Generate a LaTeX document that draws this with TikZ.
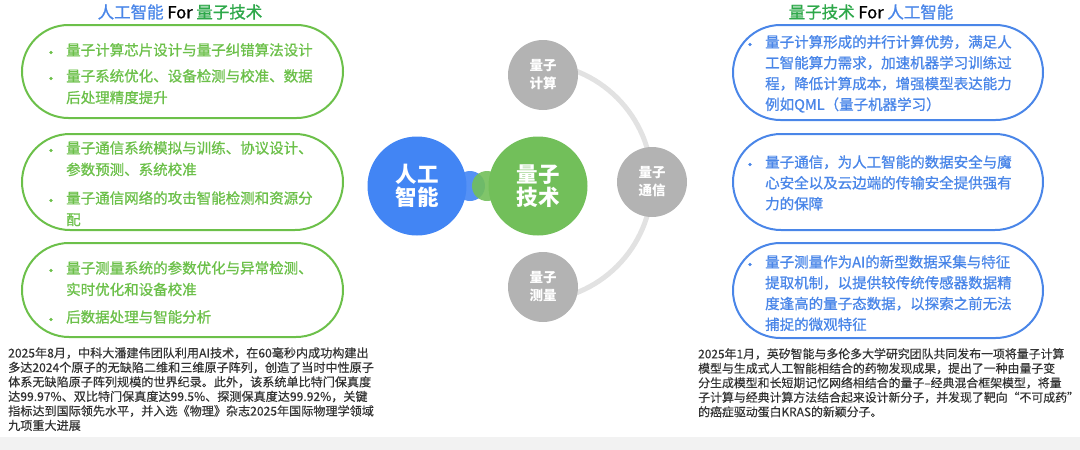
\documentclass[tikz,border=0pt]{standalone}
\usepackage{fontspec}
\setmainfont{Noto Sans CJK SC}
\newfontfamily\medfont[FakeBold=1]{Noto Sans CJK SC}
\newfontfamily\notefont[FakeBold=0.4]{Noto Sans CJK SC}
\usetikzlibrary{positioning, shapes.misc}

\definecolor{aiblue}{HTML}{4285F4}
\definecolor{boxblue}{HTML}{4A86E8}
\definecolor{qgreen}{HTML}{72BF5A}
\definecolor{boxgreen}{HTML}{6CC04A}
\definecolor{titlegreen}{HTML}{2EA84A}
\definecolor{qgray}{HTML}{B3B3B3}
\definecolor{arcgray}{HTML}{E2E2E2}
\definecolor{bodytext}{HTML}{333333}
\definecolor{bandgray}{HTML}{F2F2F2}

\begin{document}
\begin{tikzpicture}[x=1pt, y=-1pt,
  bigdot/.style={circle, minimum size=99pt, inner sep=0pt, text=white, align=center, font=\bfseries\fontsize{21.5}{23}\selectfont},
  linkdot/.style={circle, minimum size=30pt, inner sep=0pt},
  graydot/.style={circle, fill=qgray, minimum size=70pt, inner sep=0pt, text=white, align=center, font=\bfseries\fontsize{13.5}{18}\selectfont},
  greenbox/.style={rounded rectangle, draw=boxgreen, line width=2pt, minimum width=321pt, inner sep=0pt},
  bluebox/.style={rounded rectangle, draw=boxblue, line width=2pt, minimum width=310pt, inner sep=0pt},
  greenitem/.style={anchor=north west, inner sep=0pt, align=left, text=boxgreen, font=\medfont\fontsize{14.5}{21.5}\selectfont},
  blueitem/.style={anchor=north west, inner sep=0pt, align=left, text=boxblue, font=\medfont\fontsize{14.5}{20.8}\selectfont},
  dotmark/.style={anchor=north, inner sep=0pt, yshift=-2pt, text height=12.8pt, text depth=0pt, font=\medfont\fontsize{14.5}{21.5}\selectfont},
  headline/.style={inner sep=0pt, font=\medfont\fontsize{16.5}{18}\selectfont},
  note/.style={anchor=north west, inner sep=0pt, align=left, text=bodytext, font=\notefont\fontsize{12.1}{14.5}\selectfont}
]
\useasboundingbox (0,0) rectangle (1080,450);
\fill[bandgray] (0,437) rectangle (1080,450);

% titles
\node[headline] (aiTitle) at (180,12) {\textcolor{boxblue}{人工智能} For \textcolor{titlegreen}{量子技术}};
\node[headline] (qtTitle) at (871,12) {\textcolor{titlegreen}{量子技术} For \textcolor{boxblue}{人工智能}};

% left boxes
\node[greenbox, minimum height=93pt] (lbox1) at (182.5,71.5) {};
\node[greenbox, minimum height=96pt] (lbox2) at (182.5,182) {};
\node[greenbox, minimum height=94pt] (lbox3) at (182.5,290) {};
\node[dotmark, text=boxgreen] (ld1) at (51,43) {·};
\node[greenitem] (li1) at (66,43) {量子计算芯片设计与量子纠错算法设计};
\node[dotmark, text=boxgreen] (ld2) at (51,69) {·};
\node[greenitem] (li2) at (66,69) {量子系统优化、设备检测与校准、数据\\后处理精度提升};
\node[dotmark, text=boxgreen] (ld3) at (51,141) {·};
\node[greenitem] (li3) at (66,141) {量子通信系统模拟与训练、协议设计、\\参数预测、系统校准};
\node[dotmark, text=boxgreen] (ld4) at (51,191) {·};
\node[greenitem] (li4) at (66,191) {量子通信网络的攻击智能检测和资源分\\配};
\node[dotmark, text=boxgreen] (ld5) at (51,261) {·};
\node[greenitem] (li5) at (66,261) {量子测量系统的参数优化与异常检测、\\实时优化和设备校准};
\node[dotmark, text=boxgreen] (ld6) at (51,310) {·};
\node[greenitem] (li6) at (66,310) {后数据处理与智能分析};

% right boxes
\node[bluebox, minimum height=95pt] (rbox1) at (888,72.5) {};
\node[bluebox, minimum height=96pt] (rbox2) at (888,182) {};
\node[bluebox, minimum height=95pt] (rbox3) at (888,290.5) {};
\node[dotmark, text=boxblue] (rd1) at (750,35) {·};
\node[blueitem] (ri1) at (765,35) {量子计算形成的并行计算优势，满足人\\工智能算力需求，加速机器学习训练过\\程，降低计算成本，增强模型表达能力\\例如QML（量子机器学习）};
\node[dotmark, text=boxblue] (rd2) at (750,155) {·};
\node[blueitem] (ri2) at (765,155) {量子通信，为人工智能的数据安全与魔\\心安全以及云边端的传输安全提供强有\\力的保障};
\node[dotmark, text=boxblue] (rd3) at (750,255) {·};
\node[blueitem] (ri3) at (765,255) {量子测量作为AI的新型数据采集与特征\\提取机制，以提供较传统传感器数据精\\度逢高的量子态数据，以探索之前无法\\捕捉的微观特征};

% hub
\coordinate (hub) at (533,182);
\draw[arcgray, line width=5pt] (hub) ++(0,-119) arc[start angle=-90, end angle=90, radius=119];
\node[linkdot, fill=aiblue, opacity=0.9] (aiDot) at (470,186) {};
\node[linkdot, fill=qgreen, opacity=0.9] (qtDot) at (487,186) {};
\node[bigdot, fill=aiblue] (ai) at (417,186) {人工\\智能};
\node[bigdot, fill=qgreen] (qt) at (538,186) {量子\\技术};
\node[graydot] (compute) at (543,75) {量子\\计算};
\node[graydot] (comm) at (652,182) {量子\\通信};
\node[graydot] (measure) at (543,287) {量子\\测量};

% notes
\node[note] (lnote) at (8,347) {2025年8月，中科大潘建伟团队利用AI技术，在60毫秒内成功构建出\\多达2024个原子的无缺陷二维和三维原子阵列，创造了当时中性原子\\体系无缺陷原子阵列规模的世界纪录。此外，该系统单比特门保真度\\达99.97\%、双比特门保真度达99.5\%、探测保真度达99.92\%，关键\\指标达到国际领先水平，并入选《物理》杂志2025年国际物理学领域\\九项重大进展};
\node[note, font=\notefont\fontsize{11.9}{14.5}\selectfont] (rnote) at (698,348) {2025年1月，英矽智能与多伦多大学研究团队共同发布一项将量子计算\\模型与生成式人工智能相结合的药物发现成果，提出了一种由量子变\\分生成模型和长短期记忆网络相结合的量子–经典混合框架模型，将量\\子计算与经典计算方法结合起来设计新分子，并发现了靶向“不可成药”\\的癌症驱动蛋白KRAS的新颖分子。};
\end{tikzpicture}
\end{document}
